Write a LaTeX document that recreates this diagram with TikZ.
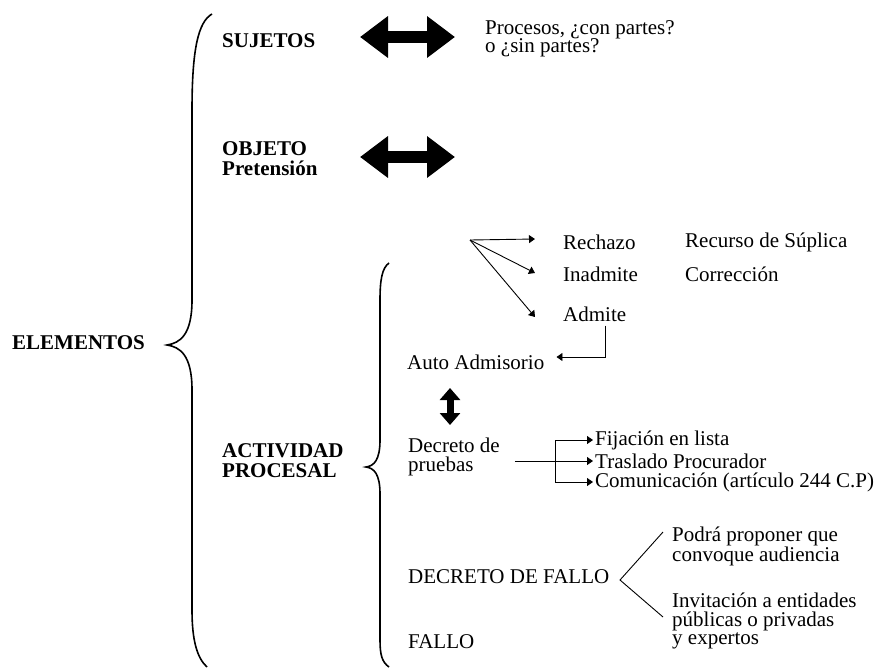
\documentclass[tikz,border=0pt]{standalone}
\usepackage{fontspec}
\setmainfont{Liberation Serif}
\usetikzlibrary{arrows.meta}

\begin{document}
\begin{tikzpicture}[x=1pt, y=-1pt]
	\tikzset{
		txt/.style={anchor=west, inner sep=0pt, align=left, font=\fontsize{21}{18.5}\selectfont},
		hd/.style={txt, font=\fontsize{21}{20}\selectfont\bfseries},
		fat/.style={line width=12.5pt, arrows={Triangle[length=28pt,width=40pt]-Triangle[length=28pt,width=40pt]}},
		slim/.style={line width=0.9pt, -{Triangle[length=6pt,width=8pt]}},
		brace/.style={line width=1.6pt}
	}
	\useasboundingbox (0,0) rectangle (877,667);

	% Left column
	\node[hd] (elem) at (12,343) {ELEMENTOS};
	\node[hd] (suj) at (222,41) {SUJETOS};
	\node[hd] (obj) at (222,159) {OBJETO\\Pretensión};
	\node[hd] (act) at (222,461) {ACTIVIDAD\\PROCESAL};

	% Big brace
	\draw[brace] (212,14) .. controls (198,22) and (192,50) .. (192,110) -- (192,300)
		.. controls (192,335) and (180,343) .. (167,345)
		.. controls (180,347) and (192,355) .. (192,390) -- (192,610)
		.. controls (192,640) and (197,658) .. (207,667);

	% Sujetos and objeto
	\node[txt] (proc) at (485,39) {Procesos, ¿con partes?\\o ¿sin partes?};
	\coordinate (s1) at (360,37);
	\coordinate (s2) at (455,37);
	\coordinate (o1) at (360,157);
	\coordinate (o2) at (455,157);
	\draw[fat] (s1) -- (s2);
	\draw[fat] (o1) -- (o2);

	% Small brace
	\draw[brace] (389,263) .. controls (382,268) and (380,280) .. (380,300) -- (380,440)
		.. controls (380,460) and (374,466) .. (366,467)
		.. controls (374,468) and (380,474) .. (380,494) -- (380,640)
		.. controls (380,655) and (382,662) .. (389,667);

	% Demanda
	\node[txt] (rech) at (563,242) {Rechazo};
	\node[txt] (recurso) at (685,242) {Recurso de Súplica};
	\node[txt] (inad) at (563,274) {Inadmite};
	\node[txt] (correc) at (685,274) {Corrección};
	\node[txt] (admite) at (563,314) {Admite};
	\node[txt] (auto) at (407,362) {Auto Admisorio};
	\coordinate (fan) at (470,240);
	\draw[slim] (fan) -- ([xshift=-28pt,yshift=3pt]rech.west);
	\draw[slim] (fan) -- ([xshift=-28pt,yshift=1pt]inad.west);
	\draw[slim] (fan) -- ([xshift=-28pt,yshift=-3pt]admite.west);
	\draw[slim] ([xshift=11pt,yshift=-4pt]admite.south) |- ([xshift=12pt,yshift=5pt]auto.east);

	% Pruebas
	\coordinate (a1) at (450,388);
	\coordinate (a2) at (450,425);
	\draw[line width=7pt, arrows={Triangle[length=12pt,width=20pt]-Triangle[length=12pt,width=20pt]}] (a1) -- (a2);
	\node[txt] (decp) at (408,457) {Decreto de\\pruebas};
	\node[txt] (fij) at (595,440) {Fijación en lista};
	\node[txt] (tras) at (595,461) {Traslado Procurador};
	\node[txt] (com) at (595,482) {Comunicación (artículo 244 C.P)};
	\coordinate (split) at (555,461);
	\draw[line width=0.9pt] ([xshift=15pt,yshift=-4pt]decp.east) -- (split);
	\draw[slim] (split) |- ([xshift=-2pt]fij.west);
	\draw[slim] (split) -- ([xshift=-2pt]tras.west);
	\draw[slim] (split) |- ([xshift=-2pt]com.west);

	% Fallo
	\node[txt] (decf) at (408,577) {DECRETO DE FALLO};
	\node[txt] (podra) at (672,546) {Podrá proponer que\\convoque audiencia};
	\node[txt] (invit) at (672,621) {Invitación a entidades\\públicas o privadas\\y expertos};
	\node[txt] (fallo) at (408,642) {FALLO};
	\coordinate (vtx) at (620,580);
	\coordinate (up) at (663,532);
	\coordinate (lo) at (663,617);
	\draw[line width=0.9pt] (up) -- (vtx) -- (lo);
\end{tikzpicture}
\end{document}
